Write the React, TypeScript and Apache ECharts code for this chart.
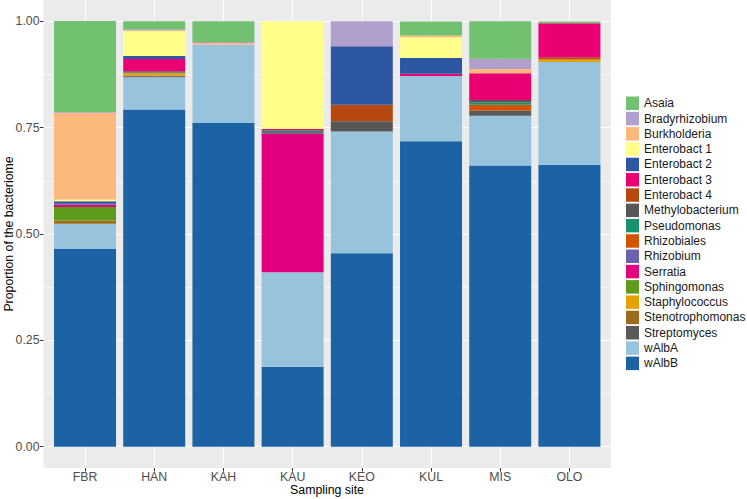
import React, { useEffect, useRef } from "react";
import * as echarts from "echarts";

const categories = ["FBR", "HAN", "KAH", "KAU", "KEO", "KUL", "MIS", "OLO"];

const taxa = [
  "Asaia", "Bradyrhizobium", "Burkholderia", "Enterobact 1", "Enterobact 2",
  "Enterobact 3", "Enterobact 4", "Methylobacterium", "Pseudomonas", "Rhizobiales",
  "Rhizobium", "Serratia", "Sphingomonas", "Staphylococcus", "Stenotrophomonas",
  "Streptomyces", "wAlbA", "wAlbB",
];

const colors = [
  "#72C170", "#B19FCE", "#FDB87C", "#FFFF8A", "#2D57A3",
  "#EA0073", "#B5490F", "#575757", "#17926C", "#D35400",
  "#6B63AC", "#E2007F", "#5C9C1A", "#E5A100", "#9E6A1C",
  "#595959", "#98C3DD", "#1C63A6",
];

const asaia = [0.2136, 0.019, 0.049, 0, 0, 0.033, 0.088, 0.004];
const bradyrhizobium = [0.002, 0.002, 0.002, 0, 0.059, 0, 0.024, 0];
const burkholderia = [0.204, 0.002, 0.004, 0, 0, 0.004, 0.01, 0];
const enterobact1 = [0.004, 0.059, 0, 0.253, 0, 0.049, 0, 0];
const enterobact2 = [0.004, 0.0065, 0, 0, 0.137, 0.037, 0, 0];
const enterobact3 = [0, 0.029, 0, 0.004, 0, 0.005, 0.063, 0.08];
const enterobact4 = [0, 0, 0, 0, 0.039, 0, 0, 0.0056];
const methylobacterium = [0, 0.003, 0, 0, 0.024, 0, 0.006, 0];
const pseudomonas = [0, 0.001, 0, 0.006, 0, 0, 0.005, 0];
const rhizobiales = [0, 0.001, 0, 0, 0, 0, 0.014, 0];
const rhizobium = [0.004, 0, 0, 0, 0, 0, 0, 0];
const serratia = [0.0055, 0, 0, 0.327, 0, 0, 0, 0];
const sphingomonas = [0.0315, 0, 0, 0, 0, 0, 0, 0];
const staphylococcus = [0, 0.005, 0, 0, 0, 0, 0, 0.006];
const stenotrophomonas = [0.008, 0.002, 0, 0, 0, 0, 0, 0];
const streptomyces = [0, 0.002, 0, 0, 0, 0, 0.012, 0];
const wAlbA = [0.059, 0.076, 0.184, 0.222, 0.286, 0.1536, 0.117, 0.2415];
const wAlbB = [0.465, 0.7926, 0.761, 0.188, 0.455, 0.718, 0.661, 0.6625];

const values = [
  asaia, bradyrhizobium, burkholderia, enterobact1, enterobact2, enterobact3,
  enterobact4, methylobacterium, pseudomonas, rhizobiales, rhizobium, serratia,
  sphingomonas, staphylococcus, stenotrophomonas, streptomyces, wAlbA, wAlbB,
];

const yTicks = [0, 0.25, 0.5, 0.75, 1];
const yMinor = [0.125, 0.375, 0.625, 0.875];
const xPositions = categories.map((_, i) => i + 1);

const FONT = "'Liberation Sans', Arial, Helvetica, sans-serif";
const FS = 12.3;
const LEGEND_FS = 12;

// panel geometry (ggplot-like: discrete axis expanded by 0.6 units, continuous by 5%)
const PANEL_LEFT = 43.5;
const UNIT = 69.2;
const PANEL_TOP = 0;
const PANEL_HEIGHT = 468;
// the background grid's y scale is offset by 1 so that 0 is not inside its range
const SHIFT = 1;

export default function App() {
  const ref = useRef<HTMLDivElement>(null);

  useEffect(() => {
    if (!ref.current) return;
    const chart = echarts.init(ref.current, null, { renderer: "svg" });

    const series: any[] = [];
    for (let k = taxa.length - 1; k >= 0; k--) {
      series.push({
        name: taxa[k],
        type: "bar",
        stack: "total",
        barWidth: 62,
        xAxisIndex: 1,
        yAxisIndex: 2,
        itemStyle: { color: colors[k] },
        data: values[k],
      });
    }

    chart.setOption({
      animation: false,
      textStyle: { fontFamily: FONT },
      grid: [
        {
          left: PANEL_LEFT,
          top: PANEL_TOP,
          width: UNIT * 8.2,
          height: PANEL_HEIGHT,
          show: true,
          backgroundColor: "#EBEBEB",
          borderWidth: 0,
        },
        {
          left: PANEL_LEFT + UNIT * 0.1,
          top: PANEL_TOP,
          width: UNIT * 8,
          height: PANEL_HEIGHT,
          show: false,
        },
      ],
      xAxis: [
        {
          type: "value",
          gridIndex: 0,
          position: "bottom",
          min: 0.4,
          max: 8.6,
          axisLine: { show: false, onZero: false },
          axisTick: {
            show: true,
            length: 3.6,
            customValues: xPositions,
            lineStyle: { color: "#333333", width: 1 },
          },
          axisLabel: {
            show: true,
            customValues: xPositions,
            margin: 3.4,
            fontSize: FS,
            color: "#4D4D4D",
            fontFamily: FONT,
            formatter: (v: number) => categories[Math.round(v) - 1] ?? "",
          },
          splitLine: { show: true, lineStyle: { color: "#FFFFFF", width: 1.1 } },
        },
        {
          type: "category",
          gridIndex: 1,
          data: categories,
          axisLine: { show: false, onZero: false },
          axisTick: { show: false },
          axisLabel: { show: false },
          splitLine: { show: false },
        },
      ],
      yAxis: [
        {
          type: "value",
          gridIndex: 0,
          position: "left",
          min: -0.05 + SHIFT,
          max: 1.05 + SHIFT,
          axisLine: { show: false, onZero: false },
          axisTick: {
            show: true,
            length: 3.6,
            customValues: yTicks.map((v) => v + SHIFT),
            lineStyle: { color: "#333333", width: 1 },
          },
          axisLabel: {
            show: true,
            customValues: yTicks.map((v) => v + SHIFT),
            margin: 4,
            fontSize: FS,
            color: "#4D4D4D",
            fontFamily: FONT,
            formatter: (v: number) => (v - SHIFT).toFixed(2),
          },
          splitLine: { show: true, lineStyle: { color: "#FFFFFF", width: 1.1 } },
        },
        {
          type: "value",
          gridIndex: 0,
          position: "left",
          min: -0.05 + SHIFT,
          max: 1.05 + SHIFT,
          axisLine: { show: false, onZero: false },
          axisTick: { show: false, customValues: yMinor.map((v) => v + SHIFT) },
          axisLabel: { show: false, customValues: yMinor.map((v) => v + SHIFT) },
          splitLine: { show: true, lineStyle: { color: "#FFFFFF", width: 0.55 } },
        },
        {
          type: "value",
          gridIndex: 1,
          min: -0.05,
          max: 1.05,
          axisLine: { show: false, onZero: false },
          axisTick: { show: false },
          axisLabel: { show: false },
          splitLine: { show: false },
        },
      ],
      legend: {
        orient: "vertical",
        left: 626,
        top: 96.5,
        padding: 0,
        itemWidth: 13,
        itemHeight: 13.5,
        itemGap: 1.8,
        itemTextGap: 3.5,
        icon: "rect",
        data: taxa,
        selectedMode: false,
        textStyle: {
          fontSize: LEGEND_FS,
          color: "#1A1A1A",
          fontFamily: FONT,
          lineHeight: 13.5,
          overflow: "none",
        },
      },
      graphic: [
        {
          type: "text",
          x: 327,
          y: 490,
          style: {
            text: "Sampling site",
            fontSize: FS,
            fontFamily: FONT,
            fill: "#000000",
            textAlign: "center",
            textVerticalAlign: "middle",
          },
        },
        {
          type: "text",
          x: 9,
          y: 234,
          rotation: Math.PI / 2,
          style: {
            text: "Proportion of the bacteriome",
            fontSize: FS,
            fontFamily: FONT,
            fill: "#000000",
            textAlign: "center",
            textVerticalAlign: "middle",
          },
        },
      ],
      series,
    });

    return () => chart.dispose();
  }, []);

  return (
    <div
      ref={ref}
      style={{ position: "fixed", left: 0, top: 0, width: 747, height: 499, background: "#FFFFFF" }}
    />
  );
}
